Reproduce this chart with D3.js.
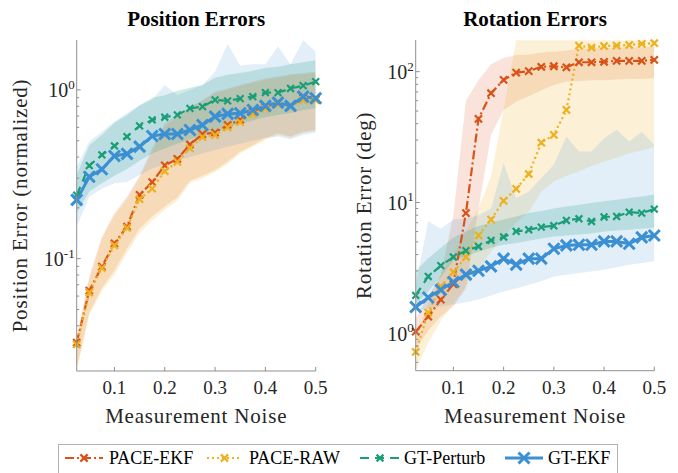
<!DOCTYPE html>
<html><head><meta charset="utf-8">
<script src="https://cdn.jsdelivr.net/npm/d3@7"></script>
<style>body{margin:0;background:#fff}svg{display:block}
text{font-family:"Liberation Serif","DejaVu Serif","Times New Roman",serif;}</style>
</head><body><svg id="c" width="678" height="473"></svg>
<script>
// ---------------- DATA ----------------
const noise = [0.025,0.05,0.075,0.1,0.125,0.15,0.175,0.2,0.225,0.25,0.275,0.3,0.325,0.35,0.375,0.4,0.425,0.45,0.475,0.5];
const xTicks = [0.1,0.2,0.3,0.4,0.5];
const xTickLabels = ["0.1","0.2","0.3","0.4","0.5"];
const seriesNames = ["PACE-EKF","PACE-RAW","GT-Perturb","GT-EKF"];

// Position errors (normalized)
const posPaceEkf  = [0.0318,0.0646,0.0897,0.123,0.155,0.239,0.284,0.357,0.39,0.475,0.547,0.558,0.62,0.664,0.747,0.79,0.843,0.8,0.89,0.88];
const posPaceRaw  = [0.031,0.063,0.088,0.12,0.152,0.225,0.26,0.33,0.375,0.45,0.525,0.54,0.6,0.645,0.72,0.775,0.82,0.8,0.87,0.87];
const posGtPert   = [0.238,0.356,0.412,0.466,0.529,0.612,0.664,0.689,0.711,0.778,0.796,0.873,0.861,0.888,0.913,0.964,0.964,1.02,1.06,1.12];
const posGtEkf    = [0.223,0.306,0.339,0.406,0.418,0.461,0.533,0.548,0.548,0.579,0.62,0.695,0.721,0.727,0.761,0.804,0.841,0.804,0.913,0.893];
const posPaceEkfLo = [0.0225,0.048,0.067,0.085,0.115,0.151,0.178,0.204,0.23,0.29,0.31,0.335,0.376,0.43,0.47,0.517,0.553,0.53,0.566,0.58];
const posPaceEkfHi = [0.034,0.078,0.135,0.186,0.233,0.31,0.45,0.634,0.71,0.796,0.873,0.977,1.02,1.07,1.12,1.17,1.2,1.24,1.26,1.28];
const posPaceRawLo = [0.0216,0.046,0.064,0.08,0.108,0.142,0.168,0.195,0.22,0.28,0.3,0.325,0.365,0.42,0.46,0.505,0.54,0.52,0.555,0.57];
const posPaceRawHi = [0.033,0.075,0.13,0.18,0.225,0.3,0.43,0.61,0.69,0.78,0.86,0.96,1.0,1.05,1.1,1.15,1.18,1.22,1.24,1.26];
const posGtPertLo  = [0.186,0.25,0.28,0.31,0.34,0.38,0.42,0.45,0.48,0.51,0.54,0.57,0.6,0.63,0.66,0.69,0.71,0.73,0.76,0.78];
const posGtPertHi  = [0.313,0.47,0.54,0.64,0.71,0.81,0.9,0.93,0.99,1.03,1.07,1.18,1.23,1.26,1.3,1.35,1.37,1.42,1.46,1.5];
const posGtEkfLo   = [0.155,0.233,0.26,0.28,0.285,0.313,0.343,0.36,0.38,0.4,0.42,0.44,0.46,0.48,0.5,0.52,0.53,0.51,0.54,0.56];
const posGtEkfHi   = [0.351,0.494,0.566,0.649,0.727,0.815,0.873,1.07,0.934,1.0,1.07,1.28,1.87,1.39,1.42,1.42,1.81,1.42,1.97,1.69];

// Rotation errors (deg)
const rotPaceEkf  = [1.03,1.34,1.81,2.38,8.3,43.6,68.4,86.5,98.3,101,109,110,108,118,118,119,121,121,121,123];
const rotPaceRaw  = [0.72,1.44,2.28,2.94,3.83,5.6,7.4,10.3,12.7,16.5,28.7,32.9,51,158,153,157,158,160,163,165];
const rotGtPert   = [1.95,2.72,3.29,3.83,4.28,4.61,5.13,5.45,6.01,6.19,6.49,6.64,7.29,7.51,7.16,7.75,7.82,8.45,8.3,8.9];
const rotGtEkf    = [1.59,1.88,2.15,2.47,2.81,3.01,3.25,3.72,3.35,3.72,3.72,4.43,4.7,4.75,4.75,5.04,5.04,4.84,5.41,5.6];
const rotPaceEkfLo = [0.75,1.05,1.35,1.6,2.2,9,33,51,59,65,72,79,84,85,86,86,87,88,88,89];
const rotPaceEkfHi = [1.3,1.9,2.8,8,60,86,114,127,134,135,140,142,145,150,151,152,153,154,154,155];
const rotPaceRawLo = [0.52,0.85,1.25,1.7,2.3,3.1,4.2,5.5,7.0,8.5,12.1,14.5,16,17.3,19,20.6,22,23.8,25,26.7];
const rotPaceRawHi = [0.95,1.7,2.8,4.0,6.0,9.0,16,51,174,174,174,174,174,174,174,174,174,174,174,174];
const rotGtPertLo  = [1.66,2.1,2.7,3.6,3.9,4.2,4.5,4.75,4.9,5.1,5.3,5.5,5.6,5.7,5.8,6.0,6.1,6.2,6.3,6.4];
const rotGtPertHi  = [3.0,3.75,4.5,5.4,6.0,6.6,7.0,7.4,7.8,8.3,8.6,9.0,9.3,9.6,9.9,10.2,10.5,10.8,11.1,11.5];
const rotGtEkfLo   = [1.47,1.55,1.6,1.66,1.73,1.81,1.95,2.09,2.2,2.35,2.5,2.72,2.8,2.89,2.97,3.06,3.2,3.34,3.45,3.55];
const rotGtEkfHi   = [2.35,7.2,6.3,7.4,7.5,8.0,9.0,20,10.8,12.1,15.4,19.4,31.9,24.5,24.5,31,35.9,29.2,34.8,27.6];

// ---------------- STYLE ----------------
const styles = [
  {color:"#D95319", width:2.2, dash:"9,3,2,3", mk:3.6, mkw:2.2, op:0.16},
  {color:"#EDB120", width:2.2, dash:"2,3",     mk:3.6, mkw:2.2, op:0.18},
  {color:"#1A9E77", width:2.2, dash:"9,6",     mk:3.4, mkw:2.2, op:0.2},
  {color:"#3B8FD3", width:3,   dash:null,      mk:5.5, mkw:3,   op:0.15}
];

const panels = [
  {left:76.7, right:315.7, top:40, bottom:371, yDomain:[0.02158,1.977], exps:[-1,0],
   title:"Position Errors", ylabel:"Position Error (normalized)", ylabelX:20,
   lines:[posPaceEkf,posPaceRaw,posGtPert,posGtEkf],
   bands:[[posPaceEkfLo,posPaceEkfHi],[posPaceRawLo,posPaceRawHi],[posGtPertLo,posGtPertHi],[posGtEkfLo,posGtEkfHi]]},
  {left:415.7, right:654.3, top:40, bottom:370.7, yDomain:[0.518,174.6], exps:[0,1,2],
   title:"Rotation Errors", ylabel:"Rotation Error (deg)", ylabelX:364,
   lines:[rotPaceEkf,rotPaceRaw,rotGtPert,rotGtEkf],
   bands:[[rotPaceEkfLo,rotPaceEkfHi],[rotPaceRawLo,rotPaceRawHi],[rotGtPertLo,rotGtPertHi],[rotGtEkfLo,rotGtEkfHi]]}
];

const svg = d3.select("#c");
const axisColor = "#8f8f8f", textColor = "#262626";

function xMarker(g, x, y, s, color, w){
  g.append("path").attr("d",`M${x-s},${y-s}L${x+s},${y+s}M${x-s},${y+s}L${x+s},${y-s}`)
   .attr("stroke",color).attr("stroke-width",w).attr("fill","none");
}

panels.forEach((p,pi)=>{
  const x = d3.scaleLinear().domain([noise[0], noise[noise.length-1]]).range([p.left,p.right]);
  const y = d3.scaleLog().domain(p.yDomain).range([p.bottom,p.top]);
  const clipId = "clip"+pi;
  svg.append("clipPath").attr("id",clipId).append("rect")
    .attr("x",p.left).attr("y",p.top).attr("width",p.right-p.left).attr("height",p.bottom-p.top);
  const g = svg.append("g");
  const gb = g.append("g").attr("clip-path",`url(#${clipId})`);
  p.bands.forEach((b,i)=>{
    const area = d3.area().x((d,j)=>x(noise[j])).y0((d,j)=>y(b[0][j])).y1((d,j)=>y(b[1][j]));
    gb.append("path").attr("d",area(noise)).attr("fill",styles[i].color).attr("fill-opacity",styles[i].op).attr("stroke","none");
  });
  p.lines.forEach((vals,i)=>{
    const st = styles[i];
    const line = d3.line().x((d,j)=>x(noise[j])).y(d=>y(d));
    const path = gb.append("path").attr("d",line(vals)).attr("fill","none")
      .attr("stroke",st.color).attr("stroke-width",st.width);
    if(st.dash) path.attr("stroke-dasharray",st.dash);
    vals.forEach((v,j)=>xMarker(g, x(noise[j]), y(v), st.mk, st.color, st.mkw));
  });
  g.append("line").attr("x1",p.left).attr("x2",p.left).attr("y1",p.top).attr("y2",p.bottom)
    .attr("stroke",axisColor).attr("stroke-width",1);
  g.append("line").attr("x1",p.left).attr("x2",p.right).attr("y1",p.bottom).attr("y2",p.bottom)
    .attr("stroke",axisColor).attr("stroke-width",1);
  xTicks.forEach((t,i)=>{
    g.append("line").attr("x1",x(t)).attr("x2",x(t)).attr("y1",p.bottom).attr("y2",p.bottom-4)
      .attr("stroke",axisColor);
    g.append("text").attr("x",x(t)).attr("y",394.3).attr("text-anchor","middle")
      .attr("font-size",19).attr("fill",textColor).text(xTickLabels[i]);
  });
  const [lo,hi] = p.yDomain;
  for(let k=Math.floor(Math.log10(lo)); k<=Math.ceil(Math.log10(hi)); k++){
    for(let m=1;m<=9;m++){
      const v = m*Math.pow(10,k);
      if(v<lo||v>hi) continue;
      const len = m===1?4:2.5;
      g.append("line").attr("x1",p.left).attr("x2",p.left+len).attr("y1",y(v)).attr("y2",y(v))
        .attr("stroke",axisColor);
    }
  }
  p.exps.forEach(e=>{
    const yy = y(Math.pow(10,e));
    const t = g.append("text").attr("x",p.left-2).attr("y",yy+7.5).attr("text-anchor","end")
      .attr("fill",textColor);
    t.append("tspan").attr("font-size",20).text("10");
    t.append("tspan").attr("font-size",13).attr("dy",-8.5).text(String(e));
  });
  g.append("text").attr("x",(p.left+p.right)/2).attr("y",26).attr("text-anchor","middle")
    .attr("font-weight","bold").attr("font-size",21).attr("fill","#000").text(p.title);
  g.append("text").attr("x",(p.left+p.right)/2).attr("y",422.7).attr("text-anchor","middle")
    .attr("font-size",21).attr("letter-spacing","0.8px").attr("fill",textColor)
    .text("Measurement Noise");
  const cy = (p.top+p.bottom)/2;
  g.append("text").attr("transform",`translate(${p.ylabelX+6.5},${cy}) rotate(-90)`)
    .attr("text-anchor","middle").attr("font-size",21)
    .attr("letter-spacing","0.8px").attr("fill",textColor).text(p.ylabel);
});

const lg = svg.append("g");
lg.append("rect").attr("x",58.5).attr("y",444.5).attr("width",559).attr("height",34)
  .attr("fill","#fff").attr("stroke","#b3b3b3").attr("stroke-width",1);
const legPos = [{x0:65,x1:103,tx:109},{x0:207,x1:242,tx:249},{x0:360,x1:400,tx:404},{x0:505,x1:543,tx:548}];
seriesNames.forEach((n,i)=>{
  const st = styles[i], lp = legPos[i], ly = 458;
  const l = lg.append("line").attr("x1",lp.x0).attr("x2",lp.x1).attr("y1",ly).attr("y2",ly)
    .attr("stroke",st.color).attr("stroke-width",st.width);
  if(st.dash) l.attr("stroke-dasharray",st.dash);
  xMarker(lg,(lp.x0+lp.x1)/2,ly,st.mk,st.color,st.mkw);
  lg.append("text").attr("x",lp.tx).attr("y",464.3).attr("font-size",18)
    .attr("fill","#000").text(n);
});
</script></body></html>
